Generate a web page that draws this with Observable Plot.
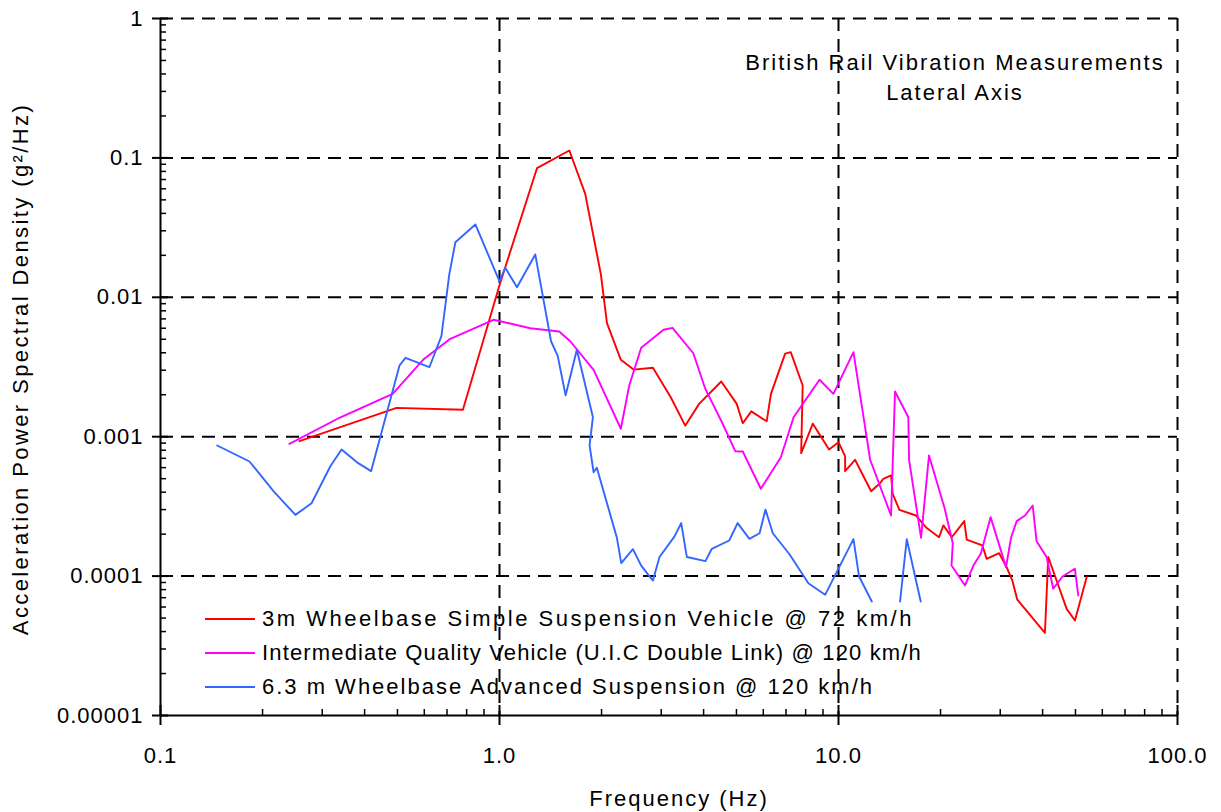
<!DOCTYPE html>
<html>
<head>
<meta charset="utf-8">
<script src="https://cdn.jsdelivr.net/npm/d3@7"></script>
<script src="https://cdn.jsdelivr.net/npm/@observablehq/plot@0.6"></script>
<style>
  html, body { margin: 0; padding: 0; background: #fff; }
  #wrap { position: relative; width: 1221px; height: 812px; font-family: "Liberation Sans", Arial, sans-serif; color: #000; }
  .ov { position: absolute; white-space: nowrap; font-size: 22px; letter-spacing: 2px; line-height: 1; }
  .lg { position: absolute; height: 0; border-top: 2px solid; width: 50px; }
</style>
</head>
<body>
<div id="wrap"></div>
<script>
// ---- Data ----
const redFreq = [0.257, 0.497, 0.780, 1.0, 1.29, 1.607, 1.79, 1.99, 2.075, 2.28, 2.486, 2.835, 3.20, 3.53, 3.88, 4.51, 5.01, 5.22, 5.53, 6.14, 6.32, 6.96, 7.23, 7.84, 7.76, 8.40, 9.38, 10.0, 10.46, 10.46, 11.19, 12.48, 13.26, 13.56, 14.29, 14.45, 15.12, 16.93, 18.21, 19.80, 20.39, 21.58, 23.5, 23.89, 26.56, 27.36, 29.76, 31.33, 32.56, 33.68, 40.64, 41.56, 47.1, 49.83, 53.95];
const redPSD = [0.000929, 0.00161, 0.00156, 0.0122, 0.0844, 0.113, 0.0552, 0.0147, 0.00652, 0.00356, 0.00303, 0.00312, 0.00192, 0.00120, 0.00172, 0.00249, 0.00172, 0.00125, 0.00152, 0.00129, 0.00203, 0.00394, 0.00404, 0.00233, 0.000762, 0.00124, 0.00081, 0.000914, 0.000722, 0.000566, 0.000683, 0.000406, 0.000464, 0.000499, 0.000527, 0.000389, 0.000299, 0.000272, 0.000221, 0.00019, 0.000231, 0.00019, 0.000248, 0.000183, 0.000166, 0.000133, 0.000146, 0.000116, 0.000093, 0.0000679, 0.0000392, 0.000137, 0.0000582, 0.000048, 0.0000982];

const magFreq = [0.240, 0.332, 0.484, 0.595, 0.716, 0.960, 1.233, 1.50, 1.617, 1.895, 2.28, 2.414, 2.618, 3.048, 3.238, 3.73, 4.045, 4.53, 4.96, 5.22, 5.90, 6.76, 7.37, 8.79, 9.66, 11.07, 12.40, 14.29, 14.68, 16.07, 16.15, 17.52, 18.49, 20.52, 21.73, 21.55, 23.62, 25.0, 26.3, 28.1, 31.2, 32.3, 33.55, 35.5, 37.4, 38.4, 41.1, 43.0, 45.8, 49.8, 50.97];
const magPSD = [0.000889, 0.00134, 0.00203, 0.00356, 0.00504, 0.00690, 0.0060, 0.00569, 0.00484, 0.00302, 0.00114, 0.00233, 0.00434, 0.00585, 0.00604, 0.00397, 0.00221, 0.00127, 0.000787, 0.000783, 0.000423, 0.000713, 0.00138, 0.00256, 0.00203, 0.00404, 0.000683, 0.000272, 0.00211, 0.00138, 0.000683, 0.000188, 0.000733, 0.000312, 0.000172, 0.000119, 0.0000857, 0.000119, 0.000145, 0.000265, 0.000116, 0.00019, 0.000248, 0.000272, 0.000321, 0.000178, 0.000137, 0.0000811, 0.0000993, 0.000113, 0.0000726];

const blueFreq = [0.147, 0.183, 0.216, 0.250, 0.279, 0.317, 0.342, 0.383, 0.418, 0.507, 0.528, 0.621, 0.674, 0.711, 0.741, 0.849, 1.0, 1.04, 1.126, 1.275, 1.419, 1.484, 1.567, 1.691, 1.886, 1.844, 1.895, 1.937, 2.22, 2.286, 2.475, 2.618, 2.835, 2.965, 3.28, 3.436, 3.57, 4.05, 4.23, 4.76, 5.04, 5.46, 5.85, 6.09, 6.40, 7.16, 8.15, 9.13, 11.07, 11.5, 12.54, 13.8, 15.19, 15.9, 17.48];
const bluePSD = [0.000865, 0.000664, 0.000404, 0.000275, 0.000333, 0.000614, 0.000810, 0.000646, 0.000566, 0.00324, 0.00368, 0.00315, 0.00526, 0.0146, 0.0248, 0.0333, 0.0130, 0.0163, 0.0118, 0.0203, 0.00484, 0.00382, 0.00198, 0.0042, 0.00138, 0.000865, 0.000556, 0.000598, 0.000188, 0.000124, 0.000156, 0.000119, 0.0000929, 0.000137, 0.000192, 0.00024, 0.000137, 0.000128, 0.000157, 0.00018, 0.00024, 0.000185, 0.000203, 0.0003, 0.000203, 0.000144, 0.0000889, 0.0000734, 0.000184, 0.0000993, 0.0000657, null, 0.0000657, 0.000184, 0.0000657];

const seriesNames = [
  "3m Wheelbase Simple Suspension Vehicle @ 72 km/h",
  "Intermediate Quality Vehicle (U.I.C Double Link) @ 120 km/h",
  "6.3 m Wheelbase Advanced Suspension @ 120 km/h"
];
const seriesColors = ["#FF0000", "#FF00FF", "#3366FF"];

const xDomain = [0.1, 100];
const yDomain = [0.00001, 1];
const xMajor = [0.1, 1, 10, 100];
const xTickLabels = ["0.1", "1.0", "10.0", "100.0"];
const yMajor = [1, 0.1, 0.01, 0.001, 0.0001, 0.00001];
const yTickLabels = ["1", "0.1", "0.01", "0.001", "0.0001", "0.00001"];
const xGridVals = [1, 10, 100];
const yGridVals = [1, 0.1, 0.01, 0.001, 0.0001];

const titleLines = ["British Rail Vibration Measurements", "Lateral Axis"];
const xLabel = "Frequency (Hz)";
const yLabel = "Acceleration Power Spectral Density (g²/Hz)";

// minor ticks (2..9 per decade)
const xMinor = [], yMinor = [];
for (const d of [0.1, 1, 10]) for (let k = 2; k <= 9; k++) xMinor.push(d * k);
for (const d of [0.00001, 0.0001, 0.001, 0.01, 0.1]) for (let k = 2; k <= 9; k++) yMinor.push(d * k);

const toRows = (xs, ys) => xs.map((f, i) => ({f, p: ys[i]}));
const red = toRows(redFreq, redPSD);
const mag = toRows(magFreq, magPSD);
const blue = toRows(blueFreq, bluePSD);
const xTicks = xMajor.map((v, i) => ({v, label: xTickLabels[i]}));
const yTicks = yMajor.map((v, i) => ({v, label: yTickLabels[i]}));

// layout
const W = 1221, H = 812;
const mL = 160, mR = 44, mT = 18, mB = 97;
const pw = W - mL - mR, ph = H - mT - mB;

const dash = "13,8";
const lw = 1.9;
const chart = Plot.plot({
  width: W, height: H,
  marginLeft: mL, marginRight: mR, marginTop: mT, marginBottom: mB,
  x: {type: "log", domain: xDomain, axis: null},
  y: {type: "log", domain: yDomain, axis: null},
  style: {fontFamily: "'Liberation Sans', Arial, sans-serif", fontSize: "22px", color: "#000", background: "#fff", overflow: "visible"},
  marks: [
    Plot.ruleY(yGridVals, {stroke: "#000", strokeWidth: 2, strokeDasharray: dash}),
    Plot.ruleX(xGridVals, {stroke: "#000", strokeWidth: 2, strokeDasharray: dash}),
    Plot.ruleY([yDomain[0]], {stroke: "#000", strokeWidth: 2}),
    Plot.ruleX([xDomain[0]], {stroke: "#000", strokeWidth: 2}),
    // minor ticks
    Plot.ruleX(xMinor, {stroke: "#000", strokeWidth: 1.5, insetTop: ph - 6}),
    Plot.ruleY(yMinor, {stroke: "#000", strokeWidth: 1.5, insetRight: pw - 6}),
    // major ticks (crossing the axis)
    Plot.ruleX(xMajor, {stroke: "#000", strokeWidth: 2, insetTop: ph - 20, dy: 10}),
    Plot.ruleY(yMajor, {stroke: "#000", strokeWidth: 2, insetRight: pw - 16, dx: -8}),
    // tick labels
    Plot.text(xTicks, {x: "v", text: "label", frameAnchor: "bottom", dy: 47, fontSize: 22, fill: "#000"}),
    Plot.text(yTicks, {y: "v", text: "label", frameAnchor: "left", dx: -17, textAnchor: "end", fontSize: 22, fill: "#000"}),
    // series
    Plot.line(red, {x: "f", y: "p", stroke: seriesColors[0], strokeWidth: lw}),
    Plot.line(mag, {x: "f", y: "p", stroke: seriesColors[1], strokeWidth: lw}),
    Plot.line(blue, {x: "f", y: "p", stroke: seriesColors[2], strokeWidth: lw})
  ]
});
chart.style.position = "absolute";
chart.style.left = "0px";
chart.style.top = "0px";
chart.querySelectorAll("text").forEach(t => t.setAttribute("letter-spacing", "1"));

const wrap = document.getElementById("wrap");
wrap.appendChild(chart);

function addText(txt, css, targetWidth) {
  const d = document.createElement("div");
  d.className = "ov";
  d.textContent = txt;
  Object.assign(d.style, css);
  wrap.appendChild(d);
  if (targetWidth) {
    d.style.letterSpacing = "0px";
    const natural = d.getBoundingClientRect().width;
    const n = [...txt].length;
    d.style.letterSpacing = ((targetWidth - natural) / n) + "px";
  }
  return d;
}
// annotation title
addText(titleLines[0], {left: "955px", top: "52px", transform: "translateX(-50%)"});
addText(titleLines[1], {left: "955px", top: "82px", transform: "translateX(-50%)"});
// axis titles
addText(xLabel, {left: "679px", top: "788px", transform: "translateX(-50%)"});
addText(yLabel, {left: "21px", top: "369px", transform: "translate(-50%,-50%) rotate(-90deg)", letterSpacing: "2.4px"});
// legend
const legendY = [619, 653, 687];
const legendWidths = [652, 660, 612];
seriesNames.forEach((name, i) => {
  const l = document.createElement("div");
  l.className = "lg";
  Object.assign(l.style, {left: "205px", top: (legendY[i] - 1) + "px", borderTopColor: seriesColors[i]});
  wrap.appendChild(l);
  addText(name, {left: "262px", top: (legendY[i] - 11) + "px"}, legendWidths[i]);
});
</script>
</body>
</html>
